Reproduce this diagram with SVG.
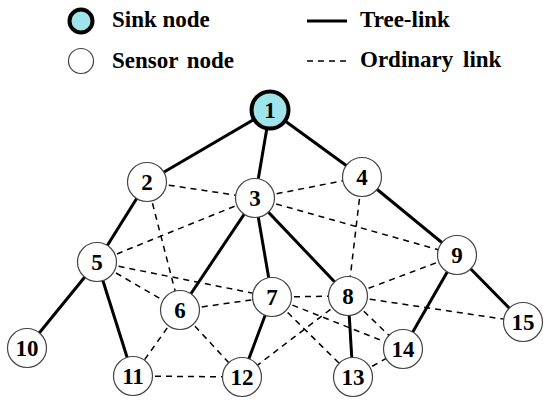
<svg xmlns="http://www.w3.org/2000/svg" width="550" height="406" viewBox="0 0 550 406">
<style>
.t{stroke:#000;stroke-width:3;fill:none}
.o{stroke:#000;stroke-width:1.5;stroke-dasharray:6 5;fill:none}
.n{fill:#fff;stroke:#444;stroke-width:1.2}
.s{fill:#9ee4ea;stroke:#000;stroke-width:4}
.lb{font-family:"Liberation Serif","Times New Roman",serif;font-weight:bold;font-size:23px;fill:#000;text-anchor:middle}
.lg{font-family:"Liberation Serif","Times New Roman",serif;font-weight:bold;font-size:23px;fill:#000}
</style>
<rect width="550" height="406" fill="#fff"/>
<g id="legend">
<circle class="s" cx="81" cy="21" r="11.5"/>
<text class="lg" x="112" y="27">Sink node</text>
<circle class="n" cx="81" cy="61" r="12.5"/>
<text class="lg" x="112" y="68" word-spacing="3">Sensor node</text>
<line class="t" x1="307" y1="21" x2="347" y2="21"/>
<text class="lg" x="360" y="27">Tree-link</text>
<line class="o" x1="307" y1="61" x2="347" y2="61"/>
<text class="lg" x="360" y="67" word-spacing="4">Ordinary link</text>
</g>
<g id="connectors">
<line class="t" x1="270" y1="110" x2="147" y2="182"/>
<line class="t" x1="270" y1="110" x2="255" y2="198"/>
<line class="t" x1="270" y1="110" x2="362" y2="177"/>
<line class="t" x1="147" y1="182" x2="97" y2="262"/>
<line class="t" x1="255" y1="198" x2="180" y2="310"/>
<line class="t" x1="255" y1="198" x2="272" y2="297"/>
<line class="t" x1="255" y1="198" x2="348" y2="296"/>
<line class="t" x1="362" y1="177" x2="457" y2="255"/>
<line class="t" x1="97" y1="262" x2="27" y2="348"/>
<line class="t" x1="97" y1="262" x2="133" y2="376"/>
<line class="t" x1="272" y1="297" x2="242" y2="377"/>
<line class="t" x1="348" y1="296" x2="353" y2="377"/>
<line class="t" x1="457" y1="255" x2="403" y2="349"/>
<line class="t" x1="457" y1="255" x2="523" y2="322"/>
<line class="o" x1="147" y1="182" x2="255" y2="198"/>
<line class="o" x1="147" y1="182" x2="180" y2="310"/>
<line class="o" x1="255" y1="198" x2="362" y2="177"/>
<line class="o" x1="255" y1="198" x2="97" y2="262"/>
<line class="o" x1="255" y1="198" x2="457" y2="255"/>
<line class="o" x1="362" y1="177" x2="348" y2="296"/>
<line class="o" x1="97" y1="262" x2="180" y2="310"/>
<line class="o" x1="97" y1="262" x2="272" y2="297"/>
<line class="o" x1="180" y1="310" x2="272" y2="297"/>
<line class="o" x1="180" y1="310" x2="133" y2="376"/>
<line class="o" x1="180" y1="310" x2="242" y2="377"/>
<line class="o" x1="272" y1="297" x2="348" y2="296"/>
<line class="o" x1="272" y1="297" x2="353" y2="377"/>
<line class="o" x1="272" y1="297" x2="403" y2="349"/>
<line class="o" x1="348" y1="296" x2="457" y2="255"/>
<line class="o" x1="348" y1="296" x2="242" y2="377"/>
<line class="o" x1="348" y1="296" x2="403" y2="349"/>
<line class="o" x1="348" y1="296" x2="523" y2="322"/>
<line class="o" x1="133" y1="376" x2="242" y2="377"/>
<line class="o" x1="353" y1="377" x2="403" y2="349"/>
</g>
<g id="node1"><circle class="s" cx="270" cy="110" r="18.5"/><text class="lb" x="270" y="118">1</text></g>
<g id="node2"><circle class="n" cx="147" cy="182" r="19.5"/><text class="lb" x="147" y="190">2</text></g>
<g id="node3"><circle class="n" cx="255" cy="198" r="19.5"/><text class="lb" x="255" y="206">3</text></g>
<g id="node4"><circle class="n" cx="362" cy="177" r="19.5"/><text class="lb" x="362" y="185">4</text></g>
<g id="node5"><circle class="n" cx="97" cy="262" r="19.5"/><text class="lb" x="97" y="270">5</text></g>
<g id="node6"><circle class="n" cx="180" cy="310" r="19.5"/><text class="lb" x="180" y="318">6</text></g>
<g id="node7"><circle class="n" cx="272" cy="297" r="19.5"/><text class="lb" x="272" y="305">7</text></g>
<g id="node8"><circle class="n" cx="348" cy="296" r="19.5"/><text class="lb" x="348" y="304">8</text></g>
<g id="node9"><circle class="n" cx="457" cy="255" r="19.5"/><text class="lb" x="457" y="263">9</text></g>
<g id="node10"><circle class="n" cx="27" cy="348" r="19.5"/><text class="lb" x="27" y="356">10</text></g>
<g id="node11"><circle class="n" cx="133" cy="376" r="19.5"/><text class="lb" x="133" y="384">11</text></g>
<g id="node12"><circle class="n" cx="242" cy="377" r="19.5"/><text class="lb" x="242" y="385">12</text></g>
<g id="node13"><circle class="n" cx="353" cy="377" r="19.5"/><text class="lb" x="353" y="385">13</text></g>
<g id="node14"><circle class="n" cx="403" cy="349" r="19.5"/><text class="lb" x="403" y="357">14</text></g>
<g id="node15"><circle class="n" cx="523" cy="322" r="19.5"/><text class="lb" x="523" y="330">15</text></g>
</svg>
